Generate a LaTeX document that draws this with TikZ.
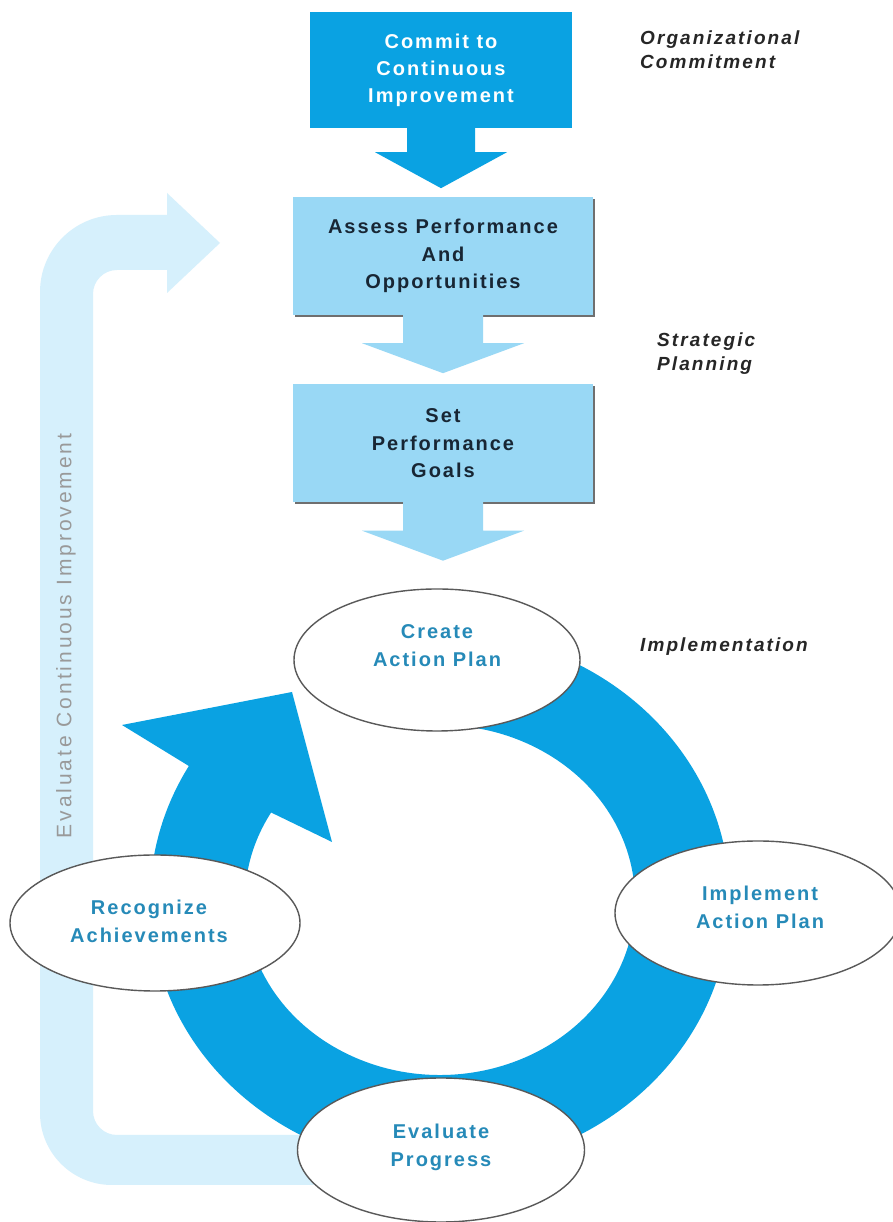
\documentclass[tikz,border=0pt]{standalone}
\usepackage{fontspec}
\setmainfont{Liberation Sans}
\newfontfamily\boxfont[LetterSpace=10]{Liberation Sans}
\newfontfamily\sidefont[LetterSpace=11]{Liberation Sans}
\newfontfamily\bandfont[LetterSpace=14]{Liberation Sans}
\usetikzlibrary{shapes.geometric, shadows}

\definecolor{deepblue}{RGB}{10,162,226}
\definecolor{paleblue}{RGB}{153,216,245}
\definecolor{faintblue}{RGB}{214,240,252}
\definecolor{ovaltext}{RGB}{38,138,184}
\definecolor{boxtext}{RGB}{24,38,52}

\tikzset{
	darkbox/.style = {rectangle, fill = deepblue, text = white, minimum width = 262pt, minimum height = 116pt, align = center, font = \boxfont\bfseries\fontsize{20}{27}\selectfont},
	lightbox/.style = {rectangle, fill = paleblue, text = boxtext, minimum width = 300pt, minimum height = 118pt, align = center, font = \boxfont\bfseries\fontsize{20}{27.5}\selectfont, drop shadow = {shadow xshift = 1.5pt, shadow yshift = -2pt, opacity = 0.8, fill = black!70}},
	stageoval/.style = {ellipse, fill = white, draw = black!65, line width = 1.4pt, inner sep = 0pt},
	stagetext/.style = {text = ovaltext, align = center, font = \boxfont\bfseries\fontsize{20}{28}\selectfont},
	sidelabel/.style = {anchor = north west, inner sep = 0pt, align = left, text = black!85, font = \sidefont\bfseries\itshape\fontsize{19}{24}\selectfont}
}

\begin{document}
\begin{tikzpicture}[x = 10pt, y = 10pt]

	\useasboundingbox (0, 0) rectangle (89.2, 122.2);
	\fill [white] (0, 0) rectangle (89.2, 122.2);

	% Feedback band
	
	\fill [faintblue] (34.0, 8.7) -- (11.7, 8.7) arc [start angle = 270, end angle = 180, radius = 2.4] -- (9.3, 92.8) arc [start angle = 180, end angle = 90, radius = 2.4] -- (16.7, 95.2) -- (16.7, 92.9) -- (22.0, 97.9) -- (16.7, 102.9) -- (16.7, 100.7) -- (11.7, 100.7) arc [start angle = 90, end angle = 180, radius = 7.7] -- (4.0, 10.9) arc [start angle = 180, end angle = 270, radius = 7.2] -- (34.0, 3.7) -- cycle;
	\node [rotate = 90, text = black!40, font = \bandfont\fontsize{21}{24}\selectfont] (bandlabel) at (6.6, 58.6) {Evaluate Continuous Improvement};
	
	% Cycle arrow
	
	\fill [deepblue] (44.0, 32.2) ++(95 : 29.0 and 26.8) arc [start angle = 95, end angle = -210, x radius = 29.0, y radius = 26.8] -- (12.2, 49.7) -- (29.2, 53.0) -- (33.2, 38.0) -- (27.11, 40.95) arc [start angle = 150, end angle = 455, x radius = 19.5, y radius = 17.5] -- cycle;
	
	% Planning boxes
	
	\node [darkbox] (commit) at (44.1, 115.2) {Commit to\\Continuous\\Improvement};
	\node [lightbox] (assess) at (44.3, 96.6) {Assess Performance\\And\\Opportunities};
	\node [lightbox] (goals) at (44.3, 77.85) {Set\\Performance\\Goals};
	
	\fill [deepblue] ([xshift = -34pt, yshift = 1pt] commit.south) -- ++(0pt, -25pt) -- ++(-32pt, 0pt) -- ++(66pt, -36pt) -- ++(66pt, 36pt) -- ++(-32pt, 0pt) -- ++(0pt, 25pt) -- cycle;
	\foreach \stage in {assess, goals}
		\fill [paleblue] ([xshift = -40pt, yshift = 1pt] \stage.south) -- ++(0pt, -29pt) -- ++(-41pt, 0pt) -- ++(81pt, -30pt) -- ++(81pt, 30pt) -- ++(-41pt, 0pt) -- ++(0pt, 29pt) -- cycle;
	
	% Cycle stages
	
	\node [stageoval, minimum width = 286pt, minimum height = 142pt] (create) at (43.7, 56.2) {};
	\node [stageoval, minimum width = 286pt, minimum height = 144pt] (implement) at (75.8, 30.9) {};
	\node [stageoval, minimum width = 290pt, minimum height = 136pt] (recognize) at (15.5, 29.9) {};
	\node [stageoval, minimum width = 287pt, minimum height = 144pt] (evaluate) at (44.1, 7.2) {};
	
	\node [stagetext] (create text) at ([yshift = 14pt] create.center) {Create\\Action Plan};
	\node [stagetext] (implement text) at ([xshift = 2pt, yshift = 6pt] implement.center) {Implement\\Action Plan};
	\node [stagetext] (recognize text) at ([xshift = -6pt, yshift = 2pt] recognize.center) {Recognize\\Achievements};
	\node [stagetext] (evaluate text) at ([yshift = 3pt] evaluate.center) {Evaluate\\Progress};
	
	% Phase labels
	
	\node [sidelabel] (commitment) at (64.0, 119.1) {Organizational\\Commitment};
	\node [sidelabel] (planning) at (65.7, 88.9) {Strategic\\Planning};
	\node [sidelabel] (implementation) at (64.0, 58.45) {Implementation};

\end{tikzpicture}
\end{document}
